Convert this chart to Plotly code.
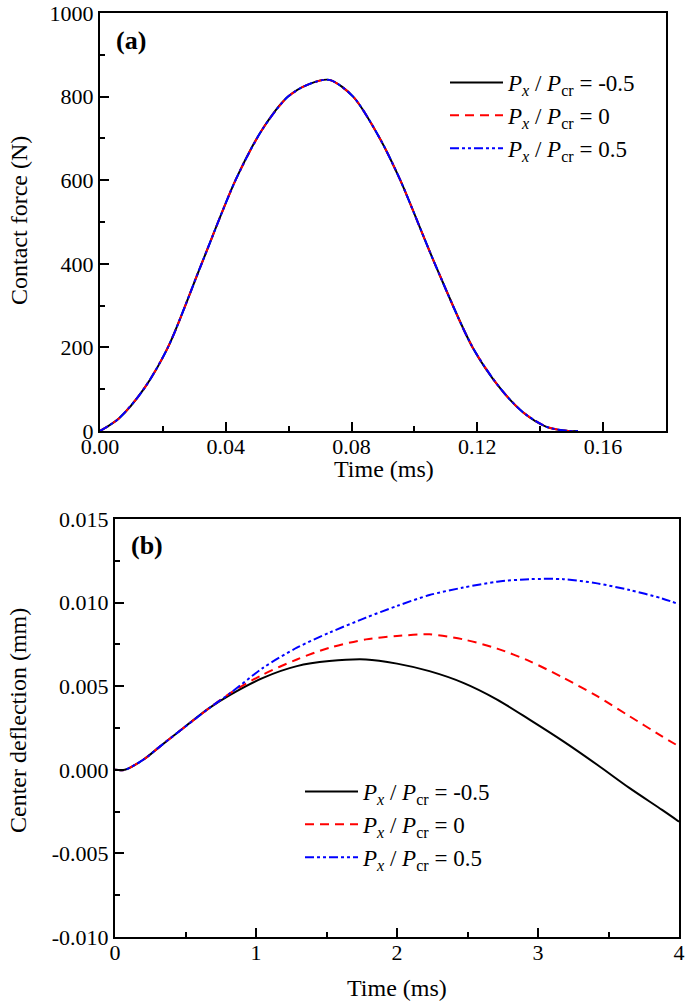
import plotly.graph_objects as go

# ---------------- data: panel (a) contact force ----------------
time_a = [0, 0.006, 0.0139, 0.0216, 0.0323, 0.0431, 0.0515, 0.0598, 0.0665, 0.073,
          0.0805, 0.089, 0.0955, 0.1065, 0.1185, 0.1275, 0.1345, 0.142, 0.149, 0.152]
force_neg = [0, 30, 100, 200, 400, 600, 720, 800, 830, 840,
             800, 700, 600, 400, 200, 100, 45, 10, 0, 0]
force_zero = [0, 30, 100, 200, 400, 600, 720, 800, 830, 840,
              800, 700, 600, 400, 200, 100, 45, 10, 0, 0]
force_pos = [0, 30, 100, 200, 400, 600, 720, 800, 830, 840,
             800, 700, 600, 400, 200, 100, 45, 10, 0, 0]

# ---------------- data: panel (b) center deflection ----------------
time_b = [0, 0.07, 0.2, 0.32, 0.44, 0.67, 0.82, 1.05, 1.29, 1.52, 1.78, 2.0,
          2.23, 2.47, 2.71, 2.94, 3.18, 3.42, 3.65, 3.88, 4.0]
defl_neg = [0, 0, 0.0006, 0.0014, 0.0022, 0.0037, 0.0045, 0.0055, 0.0062, 0.0065, 0.0066, 0.00635,
            0.0059, 0.0052, 0.0042, 0.0030, 0.0017, 0.0003, -0.0011, -0.0024, -0.0031]
defl_zero = [0, 0, 0.0006, 0.0014, 0.0022, 0.0037, 0.0046, 0.0057, 0.0066, 0.0073, 0.0078, 0.0080,
             0.0081, 0.0078, 0.00725, 0.0065, 0.0055, 0.0044, 0.0032, 0.0020, 0.0014]
defl_pos = [0, 0, 0.0006, 0.0014, 0.0022, 0.0037, 0.0046, 0.0061, 0.0073, 0.0082, 0.0091, 0.0098,
            0.01045, 0.0109, 0.01125, 0.0114, 0.0114, 0.01115, 0.01075, 0.01025, 0.0099]

# ---------------- labels / ticks ----------------
series_names = [
    "<i>P</i><sub><i>x</i></sub> / <i>P</i><sub>cr</sub> = -0.5",
    "<i>P</i><sub><i>x</i></sub> / <i>P</i><sub>cr</sub> = 0",
    "<i>P</i><sub><i>x</i></sub> / <i>P</i><sub>cr</sub> = 0.5",
]
xa_ticks = [0, 0.04, 0.08, 0.12, 0.16]
xa_labels = ["0.00", "0.04", "0.08", "0.12", "0.16"]
ya_ticks = [0, 200, 400, 600, 800, 1000]
ya_labels = ["0", "200", "400", "600", "800", "1000"]
xb_ticks = [0, 1, 2, 3, 4]
xb_labels = ["0", "1", "2", "3", "4"]
yb_ticks = [-0.010, -0.005, 0.0, 0.005, 0.010, 0.015]
yb_labels = ["-0.010", "-0.005", "0.000", "0.005", "0.010", "0.015"]

FONT = "Liberation Serif"
W, H = 685, 1002

colors = ["black", "red", "blue"]
dashes = ["solid", "9px,6px", "9px,3px,3px,3px,3px,3px"]

fig = go.Figure()
for ys, name, c, d in zip([force_neg, force_zero, force_pos], series_names, colors, dashes):
    fig.add_trace(go.Scatter(x=time_a, y=ys, mode="lines", name=name,
                             line=dict(color=c, width=2, dash=d, shape="spline", smoothing=0.8),
                             xaxis="x", yaxis="y", legend="legend"))
for ys, name, c, d in zip([defl_neg, defl_zero, defl_pos], series_names, colors, dashes):
    fig.add_trace(go.Scatter(x=time_b, y=ys, mode="lines", name=name,
                             line=dict(color=c, width=2, dash=d, shape="spline", smoothing=0.8),
                             xaxis="x2", yaxis="y2", legend="legend2"))


def px_x(p):
    return p / W


def px_y(p):
    return 1 - p / H


axis_common = dict(showline=True, linecolor="black", linewidth=2, mirror=True,
                   ticks="inside", ticklen=9, tickwidth=1.5, tickcolor="black",
                   showgrid=False, zeroline=False, tickmode="array", automargin=False,
                   ticklabeloverflow="allow",
                   tickfont=dict(family=FONT, size=22, color="black"))
minor_common = dict(ticks="inside", ticklen=5, tickwidth=1.5, tickcolor="black")

fig.update_layout(
    template="none",
    width=W, height=H,
    margin=dict(l=0, r=0, t=0, b=0, pad=0),
    paper_bgcolor="white", plot_bgcolor="white",
    font=dict(family=FONT, color="black"),
    xaxis=dict(domain=[px_x(100), px_x(666)], range=[0, 0.18], anchor="y",
               tickvals=xa_ticks, ticktext=xa_labels, minor=dict(dtick=0.02, **minor_common),
               ticklabelstandoff=-5, **axis_common),
    yaxis=dict(domain=[px_y(431), px_y(13)], range=[0, 1000], anchor="x",
               tickvals=ya_ticks, ticktext=ya_labels, minor=dict(dtick=100, **minor_common),
               **axis_common),
    xaxis2=dict(domain=[px_x(115), px_x(679)], range=[0, 4], anchor="y2",
                tickvals=xb_ticks, ticktext=xb_labels, minor=dict(dtick=0.5, **minor_common),
                ticklabelstandoff=-5, **axis_common),
    yaxis2=dict(domain=[px_y(937), px_y(519)], range=[-0.010, 0.015], anchor="x2",
                tickvals=yb_ticks, ticktext=yb_labels, minor=dict(dtick=0.0025, **minor_common),
                **axis_common),
    legend=dict(x=px_x(445), y=px_y(61), xanchor="left", yanchor="top",
                bgcolor="rgba(0,0,0,0)", borderwidth=0, itemwidth=53,
                font=dict(family=FONT, size=23, color="black"), tracegroupgap=0),
    legend2=dict(x=px_x(300), y=px_y(770), xanchor="left", yanchor="top",
                 bgcolor="rgba(0,0,0,0)", borderwidth=0, itemwidth=53,
                 font=dict(family=FONT, size=23, color="black"), tracegroupgap=0),
    showlegend=True,
)

annos = [
    dict(text="Time (ms)", x=px_x(384), y=px_y(469), textangle=0, size=24),
    dict(text="Time (ms)", x=px_x(397), y=px_y(988), textangle=0, size=24),
    dict(text="Contact force (N)", x=px_x(19), y=px_y(221), textangle=-90, size=24),
    dict(text="Center deflection (mm)", x=px_x(18), y=px_y(721), textangle=-90, size=24),
    dict(text="<b>(a)</b>", x=px_x(131), y=px_y(41), textangle=0, size=26),
    dict(text="<b>(b)</b>", x=px_x(147), y=px_y(545), textangle=0, size=26),
]
for a in annos:
    fig.add_annotation(text=a["text"], x=a["x"], y=a["y"], xref="paper", yref="paper",
                       xanchor="center", yanchor="middle", showarrow=False, textangle=a["textangle"],
                       font=dict(family=FONT, size=a["size"], color="black"))

# remove the page's default body margin so the figure fills the window exactly
fig.write_html("out.html", config={"displayModeBar": False},
               post_script="document.body.style.margin='0px';")
